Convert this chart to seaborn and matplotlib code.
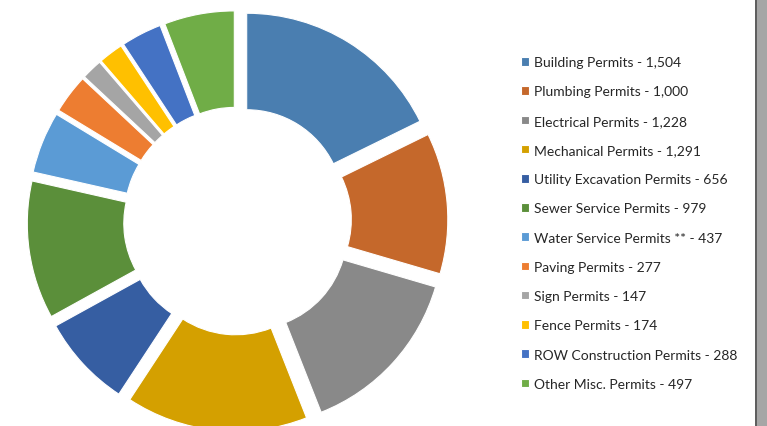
import matplotlib
matplotlib.use('Agg')
import matplotlib.pyplot as plt
import seaborn as sns
from matplotlib.patches import Rectangle
from matplotlib.lines import Line2D

# permit counts, in the order drawn clockwise from 12 o'clock
permit_types = ["Building Permits", "Plumbing Permits", "Electrical Permits",
                "Mechanical Permits", "Utility Excavation Permits", "Sewer Service Permits",
                "Water Service Permits **", "Paving Permits", "Sign Permits",
                "Fence Permits", "ROW Construction Permits", "Other Misc. Permits"]
permit_counts = [1504, 1000, 1228, 1291, 656, 979, 437, 277, 147, 174, 288, 497]
slice_colors = ["#4a7eb0", "#c5682b", "#898989", "#d4a000", "#365ea2", "#5b8f3a",
                "#5b9bd5", "#ed7d31", "#a5a5a5", "#ffc000", "#4472c4", "#70ad47"]

sns.set_theme(style='white')
plt.rcParams['font.family'] = ['Lato', 'DejaVu Sans']

W, H = 767, 427
fig = plt.figure(figsize=(W / 100, H / 100), dpi=100)
ax = fig.add_axes([0, 0, 1, 1])

palette = sns.color_palette(slice_colors)
wedges, _ = ax.pie(permit_counts,
                   colors=palette,
                   startangle=90,
                   counterclock=False,
                   explode=[0.09] * len(permit_counts),
                   wedgeprops={'width': 0.5, 'edgecolor': 'white', 'linewidth': 0.8})

# donut centre at about (237.5, 222) px, outer radius ~193 px
cx, cy, R = 237.5, 222, 193
ax.set_xlim(-cx / R, (W - cx) / R)
ax.set_ylim(-(H - cy) / R, cy / R)
ax.set_aspect('auto')
ax.axis('off')

labels = [f"{t} - {c:,}" for t, c in zip(permit_types, permit_counts)]
fig.legend(wedges, labels,
           loc='center left',
           bbox_to_anchor=(521 / W, 1 - 224 / H),
           frameon=False,
           fontsize=10.0,
           handlelength=0.58,
           handleheight=0.58,
           handletextpad=0.36,
           labelspacing=1.24,
           borderpad=0,
           borderaxespad=0)

# grey strip at the right edge (window border)
fig.patches.append(Rectangle((757 / W, 0), 1 - 757 / W, 1, transform=fig.transFigure,
                             facecolor='#a6a6a6', edgecolor='none'))
fig.lines.append(Line2D([756.3 / W, 756.3 / W], [0, 1], transform=fig.transFigure,
                        color='#404040', linewidth=1.2))

plt.savefig("out.png", dpi=100)
plt.close()
